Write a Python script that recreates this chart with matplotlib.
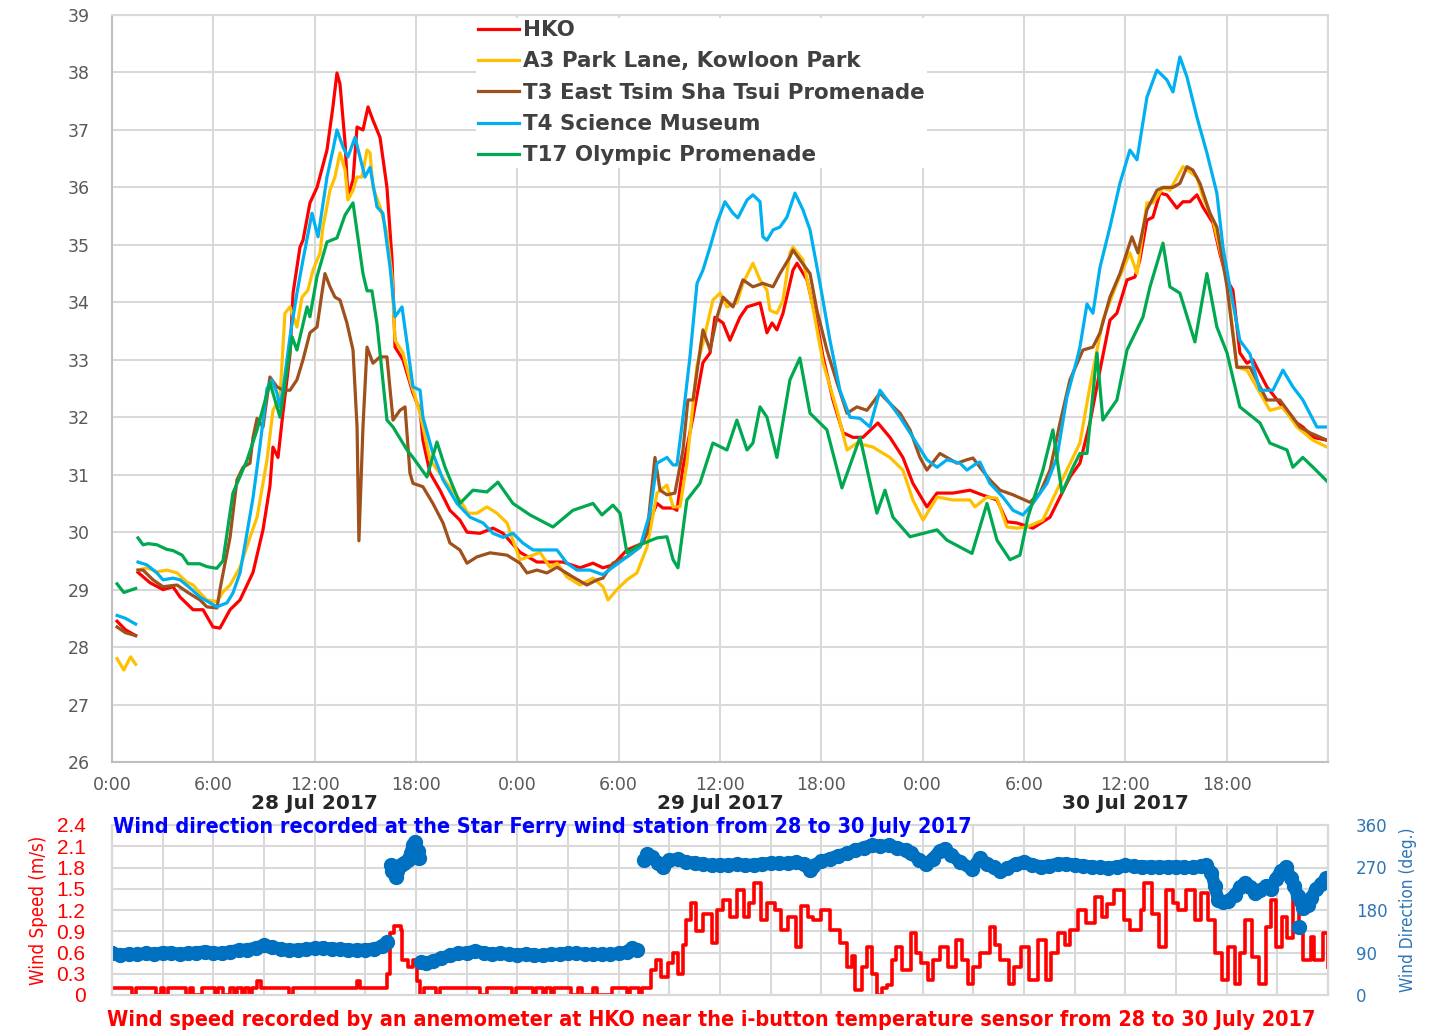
import numpy as np
import matplotlib
matplotlib.use("Agg")
import matplotlib.pyplot as plt
import matplotlib.transforms as mtransforms
from matplotlib import font_manager

# ---- temperature data (hours from 0:00 28 Jul 2017, deg C) ----
hko_early = [(0.3, 28.45), (0.8, 28.3), (1.4, 28.2)]
hko = [(1.54, 29.3), (2.25, 29.12), (3.02, 29.0), (3.61, 29.05), (4.03, 28.87), (4.8, 28.65),
       (5.39, 28.65), (5.98, 28.35), (6.39, 28.33), (6.99, 28.65), (7.58, 28.82), (8.35, 29.3),
       (8.94, 30.04), (9.35, 30.8), (9.53, 31.48), (9.83, 31.3), (10.12, 32.07), (10.54, 33.1),
       (10.72, 34.16), (11.13, 34.96), (11.31, 35.08), (11.72, 35.73), (12.14, 36.0), (12.73, 36.65),
       (13.08, 37.4), (13.32, 37.99), (13.5, 37.8), (13.8, 36.77), (13.97, 35.83), (14.27, 36.13),
       (14.51, 37.05), (14.86, 37.0), (15.16, 37.4), (15.45, 37.17), (15.87, 36.87), (16.28, 36.0),
       (16.58, 34.74), (16.76, 33.22), (17.23, 33.0), (17.82, 32.42), (18.24, 32.12), (18.41, 31.6),
       (18.83, 31.03), (19.42, 30.73), (20.01, 30.38), (20.6, 30.21), (21.02, 30.0), (21.79, 29.98),
       (22.56, 30.07), (23.15, 29.98), (24.16, 29.65), (25.16, 29.48), (26.7, 29.48), (27.71, 29.38),
       (28.48, 29.46), (29.07, 29.38), (29.66, 29.43), (30.49, 29.69), (31.44, 29.81), (32.03, 30.33),
       (32.27, 30.5), (32.62, 30.42), (33.22, 30.42), (33.45, 30.38), (33.81, 31.13), (34.4, 32.0),
       (34.99, 32.95), (35.41, 33.12), (35.7, 33.74), (36.18, 33.64), (36.59, 33.34), (37.18, 33.74),
       (37.6, 33.92), (38.37, 33.99), (38.78, 33.47), (39.08, 33.64), (39.37, 33.52), (39.73, 33.81),
       (40.32, 34.56), (40.56, 34.68), (41.15, 34.39), (41.74, 33.64), (42.1, 33.05), (42.69, 32.3),
       (43.28, 31.73), (43.87, 31.65), (44.46, 31.65), (45.35, 31.9), (46.06, 31.65), (46.83, 31.3),
       (47.42, 30.85), (48.25, 30.44), (48.85, 30.68), (49.79, 30.68), (50.8, 30.73), (51.51, 30.65),
       (52.4, 30.56), (52.99, 30.18), (53.58, 30.16), (54.53, 30.07), (55.54, 30.26), (56.13, 30.61),
       (56.72, 30.96), (57.31, 31.2), (57.9, 31.9), (58.5, 32.82), (59.09, 33.69), (59.5, 33.81),
       (60.1, 34.39), (60.57, 34.44), (60.86, 34.74), (61.28, 35.43), (61.63, 35.48), (62.05, 35.9),
       (62.46, 35.87), (63.05, 35.64), (63.41, 35.75), (63.82, 35.75), (64.24, 35.87), (64.59, 35.66),
       (65.19, 35.38), (65.6, 34.85), (66.02, 34.39), (66.37, 34.21), (66.78, 33.12), (67.2, 32.94),
       (67.55, 33.0), (68.38, 32.53), (69.15, 32.24), (69.92, 31.95), (70.51, 31.83), (71.11, 31.65),
       (71.94, 31.6)]

a3_early = [(0.3, 27.8), (0.7, 27.6), (1.1, 27.83), (1.4, 27.7)]
a3 = [(1.54, 29.34), (2.07, 29.38), (2.66, 29.31), (3.26, 29.34), (3.85, 29.29), (4.44, 29.13),
      (4.8, 29.08), (5.21, 28.94), (5.62, 28.82), (6.22, 28.79), (6.57, 28.96), (6.99, 29.08),
      (7.58, 29.39), (8.17, 29.91), (8.59, 30.26), (9.18, 31.26), (9.53, 32.12), (9.95, 32.35),
      (10.24, 33.81), (10.54, 33.92), (10.95, 33.57), (11.25, 34.09), (11.6, 34.21), (11.9, 34.56),
      (12.32, 34.86), (12.49, 35.31), (12.91, 35.95), (13.2, 36.18), (13.5, 36.6), (13.8, 36.3),
      (13.97, 35.78), (14.27, 35.95), (14.51, 36.18), (14.8, 36.18), (15.1, 36.65), (15.28, 36.6),
      (15.45, 36.0), (15.87, 35.66), (16.28, 35.2), (16.58, 34.44), (16.76, 33.34), (17.23, 33.12),
      (17.64, 32.65), (18.24, 32.07), (18.83, 31.26), (19.83, 30.85), (20.6, 30.56), (21.08, 30.33),
      (21.61, 30.33), (22.2, 30.44), (22.79, 30.33), (23.39, 30.16), (23.74, 29.86), (24.16, 29.52),
      (24.93, 29.6), (25.34, 29.65), (25.93, 29.39), (26.35, 29.46), (26.94, 29.22), (27.71, 29.08),
      (28.48, 29.2), (29.07, 29.05), (29.37, 28.82), (29.9, 29.0), (30.49, 29.17), (31.08, 29.29),
      (31.68, 29.74), (32.27, 30.68), (32.86, 30.82), (33.22, 30.44), (33.63, 30.44), (34.04, 31.2),
      (34.64, 32.9), (34.99, 33.29), (35.58, 34.04), (36.0, 34.16), (36.41, 33.92), (37.0, 33.99),
      (37.36, 34.33), (37.95, 34.68), (38.37, 34.39), (38.78, 34.21), (38.96, 33.86), (39.37, 33.81),
      (39.73, 34.04), (40.14, 34.86), (40.32, 34.96), (40.91, 34.74), (41.5, 33.92), (42.1, 32.95),
      (42.93, 32.12), (43.52, 31.43), (44.11, 31.55), (45.06, 31.48), (46.06, 31.3), (46.83, 31.08),
      (47.42, 30.56), (48.02, 30.21), (48.85, 30.61), (49.79, 30.56), (50.8, 30.56), (51.1, 30.44),
      (51.81, 30.61), (52.4, 30.59), (52.99, 30.09), (53.58, 30.07), (54.17, 30.09), (55.12, 30.21),
      (55.95, 30.73), (56.54, 31.08), (57.31, 31.55), (57.9, 32.53), (58.67, 33.69), (59.5, 34.33),
      (60.27, 34.86), (60.69, 34.5), (61.28, 35.73), (61.63, 35.73), (62.23, 35.99), (62.64, 35.95),
      (63.41, 36.36), (64.24, 36.18), (64.59, 35.83), (65.19, 35.43), (66.02, 34.39), (66.61, 32.87),
      (67.2, 32.82), (68.56, 32.12), (69.33, 32.18), (70.16, 31.83), (71.11, 31.6), (71.94, 31.48)]

t3_early = [(0.3, 28.35), (0.8, 28.25), (1.4, 28.2)]
t3 = [(1.54, 29.34), (1.84, 29.34), (2.43, 29.17), (3.02, 29.05), (3.85, 29.08), (4.44, 28.96),
      (5.21, 28.82), (5.62, 28.7), (6.22, 28.68), (6.39, 29.0), (6.99, 29.91), (7.4, 30.91),
      (7.76, 31.13), (8.17, 31.2), (8.35, 31.65), (8.59, 31.98), (8.94, 31.83), (9.35, 32.7),
      (9.77, 32.53), (10.12, 32.47), (10.54, 32.47), (10.95, 32.65), (11.31, 33.0), (11.72, 33.47),
      (12.14, 33.57), (12.43, 34.16), (12.61, 34.5), (12.91, 34.27), (13.2, 34.09), (13.5, 34.04),
      (13.91, 33.64), (14.27, 33.17), (14.51, 31.83), (14.62, 29.85), (14.86, 31.83), (15.1, 33.22),
      (15.45, 32.94), (15.87, 33.05), (16.28, 33.05), (16.64, 31.95), (17.05, 32.12), (17.35, 32.18),
      (17.64, 31.03), (17.82, 30.85), (18.41, 30.79), (19.0, 30.5), (19.6, 30.16), (20.01, 29.81),
      (20.6, 29.69), (21.02, 29.46), (21.61, 29.57), (22.38, 29.64), (23.39, 29.6), (24.16, 29.46),
      (24.57, 29.29), (25.16, 29.34), (25.75, 29.29), (26.35, 29.39), (27.29, 29.22), (28.12, 29.08),
      (28.72, 29.17), (29.07, 29.2), (29.66, 29.46), (30.49, 29.57), (31.26, 29.74), (31.68, 29.98),
      (32.15, 31.3), (32.45, 30.73), (32.86, 30.65), (33.33, 30.68), (33.81, 31.43), (34.1, 32.3),
      (34.4, 32.3), (34.99, 33.52), (35.41, 33.17), (35.82, 33.74), (36.18, 34.09), (36.77, 33.92),
      (37.36, 34.39), (37.95, 34.27), (38.54, 34.33), (39.14, 34.27), (39.55, 34.5), (40.14, 34.79),
      (40.32, 34.91), (40.73, 34.74), (41.33, 34.5), (41.74, 33.86), (42.33, 33.17), (42.93, 32.6),
      (43.52, 32.07), (44.11, 32.18), (44.7, 32.12), (45.47, 32.42), (46.06, 32.24), (46.66, 32.07),
      (47.25, 31.78), (47.84, 31.3), (48.25, 31.08), (49.02, 31.37), (50.03, 31.2), (50.62, 31.26),
      (50.98, 31.29), (51.39, 31.13), (51.98, 30.91), (52.58, 30.73), (53.35, 30.65), (54.35, 30.52),
      (54.94, 30.68), (55.54, 31.08), (56.13, 31.9), (56.72, 32.65), (57.49, 33.17), (58.08, 33.22),
      (58.5, 33.47), (59.09, 34.09), (59.68, 34.5), (60.39, 35.14), (60.75, 34.86), (61.28, 35.61),
      (61.87, 35.95), (62.23, 36.0), (62.82, 36.0), (63.23, 36.07), (63.65, 36.36), (64.0, 36.3),
      (64.42, 36.07), (65.01, 35.55), (65.42, 35.31), (66.02, 34.27), (66.61, 32.87), (67.38, 32.87),
      (68.38, 32.3), (69.15, 32.3), (70.34, 31.83), (70.93, 31.73), (71.94, 31.6)]

t4_early = [(0.3, 28.55), (0.8, 28.5), (1.4, 28.4)]
t4 = [(1.54, 29.48), (2.07, 29.43), (2.66, 29.29), (3.02, 29.17), (3.61, 29.2), (4.03, 29.17),
      (4.62, 29.03), (5.21, 28.87), (5.8, 28.77), (6.22, 28.7), (6.81, 28.77), (7.16, 28.94),
      (7.58, 29.29), (7.99, 29.98), (8.35, 30.6), (8.76, 31.5), (9.18, 32.5), (9.47, 32.65),
      (9.77, 32.42), (9.95, 32.18), (10.12, 32.47), (10.54, 33.4), (10.95, 34.16), (11.31, 34.74),
      (11.84, 35.55), (12.2, 35.14), (12.73, 36.18), (13.08, 36.65), (13.32, 37.0), (13.68, 36.7),
      (13.97, 36.53), (14.39, 36.87), (14.68, 36.53), (14.98, 36.18), (15.28, 36.35), (15.69, 35.66),
      (16.04, 35.55), (16.46, 34.62), (16.76, 33.75), (17.17, 33.92), (17.47, 33.29), (17.82, 32.53),
      (18.24, 32.47), (18.41, 32.0), (19.0, 31.37), (19.6, 30.91), (20.43, 30.5), (21.2, 30.26),
      (21.97, 30.16), (22.56, 29.98), (23.15, 29.91), (23.74, 29.98), (24.33, 29.81), (24.93, 29.69),
      (26.35, 29.69), (26.94, 29.46), (27.53, 29.34), (28.3, 29.34), (29.07, 29.26), (29.66, 29.39),
      (30.49, 29.57), (31.26, 29.74), (31.85, 30.33), (32.27, 31.2), (32.86, 31.3), (33.22, 31.17),
      (33.45, 31.17), (33.81, 32.0), (34.22, 33.05), (34.64, 34.33), (34.99, 34.56), (35.41, 34.96),
      (35.82, 35.38), (36.29, 35.75), (36.77, 35.55), (37.06, 35.47), (37.6, 35.78), (37.95, 35.87),
      (38.37, 35.75), (38.54, 35.14), (38.78, 35.08), (39.14, 35.26), (39.55, 35.31), (39.96, 35.48),
      (40.44, 35.9), (40.91, 35.61), (41.33, 35.26), (41.92, 34.33), (42.51, 33.34), (43.1, 32.47),
      (43.7, 32.0), (44.29, 31.98), (44.88, 31.83), (45.47, 32.47), (46.06, 32.24), (46.66, 32.0),
      (47.42, 31.65), (48.25, 31.26), (48.85, 31.13), (49.44, 31.26), (50.21, 31.2), (50.62, 31.08),
      (51.21, 31.2), (51.39, 31.22), (51.98, 30.85), (52.75, 30.61), (53.35, 30.38), (53.94, 30.3),
      (54.53, 30.5), (55.36, 30.85), (55.95, 31.3), (56.54, 32.35), (57.13, 33.0), (57.31, 33.22),
      (57.73, 33.97), (58.08, 33.81), (58.5, 34.61), (59.09, 35.31), (59.68, 36.07), (60.27, 36.65),
      (60.69, 36.48), (61.28, 37.57), (61.87, 38.04), (62.46, 37.87), (62.82, 37.66), (63.23, 38.27),
      (63.65, 37.92), (64.24, 37.22), (64.83, 36.6), (65.42, 35.9), (65.78, 34.96), (66.19, 34.27),
      (66.78, 33.34), (67.38, 33.1), (67.97, 32.47), (68.74, 32.47), (69.33, 32.82), (69.92, 32.53),
      (70.51, 32.3), (71.34, 31.83), (71.94, 31.83)]

t17_early = [(0.3, 29.1), (0.7, 28.95), (1.4, 29.02)]
t17 = [(1.54, 29.9), (1.84, 29.78), (2.15, 29.8), (2.66, 29.78), (3.25, 29.7), (3.61, 29.68),
       (4.15, 29.6), (4.5, 29.45), (5.2, 29.45), (5.62, 29.4), (6.2, 29.37), (6.57, 29.5),
       (7.16, 30.68), (7.99, 31.25), (8.59, 31.78), (9.35, 32.6), (9.95, 32.0), (10.66, 33.4),
       (10.95, 33.17), (11.55, 33.92), (11.72, 33.75), (12.14, 34.45), (12.73, 35.05), (13.32, 35.12),
       (13.8, 35.52), (14.27, 35.73), (14.86, 34.5), (15.1, 34.2), (15.39, 34.2), (15.69, 33.63),
       (16.28, 31.95), (16.64, 31.83), (17.47, 31.43), (17.82, 31.3), (18.65, 30.96), (19.24, 31.57),
       (19.72, 31.13), (20.6, 30.5), (21.37, 30.73), (22.2, 30.7), (22.85, 30.87), (23.74, 30.5),
       (24.75, 30.3), (26.11, 30.09), (27.29, 30.38), (28.48, 30.5), (29.01, 30.3), (29.66, 30.47),
       (30.08, 30.33), (30.49, 29.64), (31.26, 29.78), (32.27, 29.9), (32.86, 29.92), (33.22, 29.52),
       (33.51, 29.38), (34.04, 30.56), (34.81, 30.85), (35.58, 31.55), (36.41, 31.43), (37.0, 31.95),
       (37.6, 31.43), (37.95, 31.55), (38.37, 32.18), (38.78, 32.0), (39.37, 31.3), (40.14, 32.65),
       (40.73, 33.03), (41.33, 32.07), (42.33, 31.78), (43.22, 30.77), (44.29, 31.65), (45.29, 30.33),
       (45.77, 30.73), (46.24, 30.26), (47.25, 29.92), (48.85, 30.04), (49.44, 29.86), (50.92, 29.63),
       (51.81, 30.5), (52.4, 29.86), (53.17, 29.52), (53.76, 29.6), (54.23, 30.26), (55.12, 31.08),
       (55.71, 31.78), (56.25, 30.68), (56.9, 31.13), (57.31, 31.37), (57.73, 31.37), (58.32, 33.12),
       (58.67, 31.95), (59.5, 32.3), (60.1, 33.17), (61.04, 33.74), (61.46, 34.27), (62.23, 35.03),
       (62.64, 34.27), (63.23, 34.16), (64.12, 33.31), (64.83, 34.5), (65.42, 33.57), (66.02, 33.12),
       (66.78, 32.18), (67.97, 31.9), (68.56, 31.55), (69.57, 31.43), (69.92, 31.13), (70.51, 31.3),
       (71.11, 31.13), (72.0, 30.87)]

series_names = ["HKO", "A3 Park Lane, Kowloon Park", "T3 East Tsim Sha Tsui Promenade",
                "T4 Science Museum", "T17 Olympic Promenade"]

# ---- wind speed at HKO (m/s), step series ----
speed = [(0.0, 0.1), (1.2, 0.0), (1.4, 0.1), (2.6, 0.0), (2.9, 0.1), (3.1, 0.0), (3.3, 0.1),
         (4.4, 0.0), (4.6, 0.1), (4.8, 0.0), (5.3, 0.1), (6.1, 0.0), (6.3, 0.1), (6.6, 0.0),
         (7.0, 0.1), (7.2, 0.0), (7.4, 0.1), (7.7, 0.0), (7.9, 0.1), (8.1, 0.0), (8.3, 0.1),
         (8.6, 0.2), (8.8, 0.1), (10.5, 0.0), (10.7, 0.1), (14.5, 0.2), (14.7, 0.1), (16.3, 0.3),
         (16.45, 0.87), (16.7, 0.97), (17.1, 0.92), (17.2, 0.5), (17.5, 0.4), (17.8, 0.5),
         (18.05, 0.2), (18.25, 0.0), (18.5, 0.1), (19.2, 0.0), (19.4, 0.1), (21.8, 0.0), (22.2, 0.1),
         (23.7, 0.0), (23.9, 0.1), (24.9, 0.0), (25.1, 0.1), (25.5, 0.0), (25.7, 0.1), (26.0, 0.0),
         (26.2, 0.1), (27.2, 0.0), (27.6, 0.1), (27.8, 0.0), (28.5, 0.1), (28.7, 0.0), (29.6, 0.1),
         (30.5, 0.0), (30.7, 0.1), (31.2, 0.0), (31.4, 0.1), (31.9, 0.35), (32.2, 0.5), (32.5, 0.26),
         (32.9, 0.45), (33.2, 0.6), (33.5, 0.3), (33.8, 0.7), (34.0, 1.06), (34.3, 1.3), (34.6, 0.9),
         (35.0, 1.15), (35.5, 0.73), (35.8, 1.2), (36.2, 1.34), (36.6, 1.1), (37.0, 1.48), (37.4, 1.1),
         (37.7, 1.3), (38.0, 1.58), (38.4, 1.06), (38.8, 1.3), (39.25, 1.2), (39.6, 0.92), (40.0, 1.1),
         (40.5, 0.68), (40.8, 1.25), (41.2, 1.1), (41.5, 1.06), (42.0, 1.2), (42.5, 0.92),
         (43.1, 0.73), (43.5, 0.4), (43.8, 0.55), (44.0, 0.07), (44.4, 0.4), (44.7, 0.68), (45.0, 0.3),
         (45.3, 0.0), (45.6, 0.1), (45.9, 0.14), (46.2, 0.5), (46.4, 0.68), (46.8, 0.35),
         (47.3, 0.87), (47.6, 0.6), (47.9, 0.45), (48.3, 0.21), (48.6, 0.5), (49.0, 0.68),
         (49.5, 0.4), (50.0, 0.78), (50.3, 0.5), (50.7, 0.16), (51.0, 0.4), (51.4, 0.59), (52.0, 0.96),
         (52.3, 0.7), (52.6, 0.49), (53.1, 0.16), (53.4, 0.4), (53.8, 0.68), (54.3, 0.21),
         (54.8, 0.78), (55.3, 0.21), (55.6, 0.6), (56.0, 0.87), (56.4, 0.7), (56.7, 0.92),
         (57.2, 1.2), (57.7, 1.01), (58.2, 1.39), (58.6, 1.1), (58.9, 1.29), (59.3, 1.48), (59.9, 1.06),
         (60.3, 0.92), (60.9, 1.2), (61.1, 1.58), (61.6, 1.15), (62.0, 0.68), (62.4, 1.48),
         (62.8, 1.3), (63.1, 1.2), (63.6, 1.48), (64.1, 1.06), (64.5, 1.44), (64.9, 1.06),
         (65.3, 0.59), (65.7, 0.21), (66.1, 0.68), (66.5, 0.16), (66.8, 0.6), (67.1, 1.06),
         (67.5, 0.54), (67.9, 0.16), (68.3, 0.96), (68.6, 1.34), (68.9, 0.68), (69.3, 1.1),
         (69.6, 0.8), (69.9, 1.39), (70.3, 0.96), (70.5, 0.49), (71.0, 0.82), (71.2, 0.49),
         (71.7, 0.87), (72.0, 0.4)]

# ---- wind direction at Star Ferry (deg), None = gap in record ----
direction = [(0.0, 88), (0.5, 85), (1.0, 87), (1.5, 86), (2.0, 88), (2.5, 87), (3.0, 90), (3.5, 89),
             (4.0, 87), (4.5, 88), (5.0, 90), (5.5, 92), (6.0, 90), (6.5, 88), (7.0, 92), (7.5, 95),
             (8.0, 96), (8.5, 100), (9.0, 105), (9.5, 102), (10.0, 97), (10.5, 95), (11.0, 96),
             (11.5, 97), (12.0, 99), (12.5, 100), (13.0, 98), (13.5, 97), (14.0, 96), (14.5, 95),
             (15.0, 96), (15.5, 98), (16.0, 103), (16.3, 112), (16.4, None),
             (16.5, 275), (16.6, 262), (16.8, 250), (16.9, 262), (17.1, 275), (17.3, 280),
             (17.5, 285), (17.7, 300), (17.8, 318), (17.95, 325), (18.1, 305), (18.2, 290),
             (18.25, None),
             (18.3, 70), (18.6, 68), (19.0, 72), (19.5, 78), (20.0, 84), (20.5, 88), (21.0, 90),
             (21.5, 93), (22.0, 90), (22.5, 87), (23.0, 88), (23.5, 86), (24.0, 85), (24.5, 87),
             (25.0, 85), (25.5, 84), (26.0, 86), (26.5, 87), (27.0, 89), (27.5, 88), (28.0, 87),
             (28.5, 86), (29.0, 87), (29.5, 86), (30.0, 88), (30.5, 92), (30.8, 100), (31.1, 95),
             (31.2, None),
             (31.5, 285), (31.7, 298), (32.0, 293), (32.3, 280), (32.6, 272), (33.0, 285),
             (33.5, 288), (34.0, 282), (34.5, 280), (35.0, 277), (35.5, 275), (36.0, 276),
             (36.5, 275), (37.0, 277), (37.5, 275), (38.0, 276), (38.5, 278), (39.0, 279),
             (39.5, 280), (40.0, 279), (40.5, 281), (41.0, 278), (41.3, 265), (41.5, 274),
             (42.0, 283), (42.5, 289), (43.0, 295), (43.5, 300), (44.0, 306), (44.5, 312),
             (45.0, 318), (45.5, 315), (46.0, 317), (46.5, 312), (47.0, 306), (47.3, 300),
             (47.8, 286), (48.2, 278), (48.6, 288), (49.0, 305), (49.3, 310), (49.7, 296),
             (50.2, 282), (50.9, 267), (51.4, 290), (51.8, 278), (52.2, 270), (52.6, 262),
             (53.0, 268), (53.5, 278), (54.0, 282), (54.5, 276), (55.0, 272), (55.5, 274),
             (56.0, 278), (56.5, 278), (57.0, 276), (57.5, 274), (58.0, 272), (58.5, 270),
             (59.0, 269), (59.5, 272), (60.0, 275), (60.5, 273), (61.0, 272), (61.5, 272),
             (62.0, 271), (62.5, 272), (63.0, 272), (63.5, 271), (64.0, 270), (64.5, 273),
             (64.8, 276), (65.1, 258), (65.3, 230), (65.5, 202), (65.8, 198), (66.1, 200),
             (66.5, 212), (66.8, 228), (67.1, 238), (67.4, 228), (67.7, 215), (68.0, 222),
             (68.3, 230), (68.6, 225), (68.9, 245), (69.2, 262), (69.5, 270), (69.8, 248),
             (70.0, 230), (70.2, 210), (70.5, 185), (70.8, 190), (71.0, 205), (71.3, 225),
             (71.6, 235), (71.9, 248), (72.0, 240)]
direction_outlier = [(70.3, 145)]

day_labels = ["28 Jul 2017", "29 Jul 2017", "30 Jul 2017"]
hour_labels = ["0:00", "6:00", "12:00", "18:00"]

colors = ["#FF0000", "#FFC000", "#A0501A", "#00B0F0", "#00A850"]


def xy(pairs):
    arr = np.array([(t, np.nan if v is None else v) for t, v in pairs], dtype=float)
    return arr[:, 0], arr[:, 1]


# pick a narrow face for the Calibri-looking captions, if one is installed
installed = {f.name for f in font_manager.fontManager.ttflist}
has_dejavu_cond = any(f.name == "DejaVu Sans" and "condensed" in str(f.stretch)
                      for f in font_manager.fontManager.ttflist)
if "Liberation Sans Narrow" in installed:
    narrow, stretch = "Liberation Sans Narrow", "normal"
elif has_dejavu_cond:
    narrow, stretch = "DejaVu Sans", "condensed"
else:
    narrow, stretch = "Liberation Sans", "normal"

W, H = 1431, 1034
fig = plt.figure(figsize=(W / 100, H / 100), dpi=100)
fig.patch.set_facecolor("white")

# ---------------- temperature panel ----------------
ax = fig.add_axes([112 / W, 1 - 762 / H, 1216 / W, 747 / H])
grid_c = "#D9D9D9"
main = [hko, a3, t3, t4, t17]
early = [hko_early, a3_early, t3_early, t4_early, t17_early]
for pairs, first, name, c in zip(main, early, series_names, colors):
    t0, v0 = xy(first)
    t1, v1 = xy(pairs)
    ax.plot(t0, v0, color=c, lw=2.3)
    ax.plot(t1, v1, color=c, lw=2.3, label=name)

ax.set_xlim(0, 72)
ax.set_ylim(26, 39)
ax.set_xticks(np.arange(0, 73, 6))
ax.set_xticklabels(hour_labels * 3 + [""])
ax.set_yticks(np.arange(26, 40, 1))
ax.grid(True, color=grid_c, lw=1.5)
ax.set_axisbelow(True)
ax.tick_params(length=0, labelsize=12.5, labelcolor="#595959")
ax.tick_params(axis="y", pad=16)
ax.tick_params(axis="x", pad=10)
for s in ax.spines.values():
    s.set_color(grid_c)
    s.set_linewidth(1.5)
ax.spines["left"].set_color("#BFBFBF")
ax.spines["bottom"].set_color("#BFBFBF")

trans = mtransforms.blended_transform_factory(ax.transData, ax.transAxes)
for i, lab in enumerate(day_labels):
    ax.text(12 + 24 * i, -0.056, lab, transform=trans, ha="center", va="center",
            fontsize=14.5, fontweight="bold", color="#262626")

leg = ax.legend(loc="upper left", bbox_to_anchor=(0.299, 0.996), frameon=True, fancybox=False,
                borderpad=0.1, borderaxespad=0, handlelength=1.95, handletextpad=0.18,
                labelspacing=0.53, prop={"size": 15.4, "weight": "bold"})
leg.get_frame().set_edgecolor("none")
leg.get_frame().set_facecolor("white")
leg.get_frame().set_alpha(1)
for txt in leg.get_texts():
    txt.set_color("#404040")

# ---------------- wind panel ----------------
axb = fig.add_axes([112 / W, 1 - 995 / H, 1216 / W, 170 / H])
axr = axb.twinx()

st, sv = xy(speed)
axb.plot(st, sv, color="#FF0000", lw=2.6, drawstyle="steps-post")
axb.set_xlim(0, 72)
axb.set_ylim(0, 2.4)
axb.set_xticks(np.arange(0, 73, 3))
axb.set_xticklabels([])
axb.set_yticks(np.round(np.arange(0, 2.41, 0.3), 1))
axb.set_yticklabels(["0"] + [f"{v:.1f}" for v in np.arange(0.3, 2.41, 0.3)])
axb.grid(True, color=grid_c, lw=1.5)
axb.set_axisbelow(True)
axb.tick_params(length=0, labelsize=15, labelcolor="#FF0000", pad=19)
for lab in axb.get_yticklabels():
    lab.set_family("Liberation Sans")
axb.set_ylabel("Wind Speed (m/s)", color="#FF0000", fontsize=16, family=narrow,
               fontstretch=stretch, labelpad=6)

dt, dv = xy(direction)
axr.plot(dt, dv, "-o", color="#0070C0", lw=9, ms=10, solid_capstyle="round",
         solid_joinstyle="round")
ot, ov = xy(direction_outlier)
axr.plot(ot, ov, "o", color="#0070C0", ms=10)
axr.set_ylim(0, 360)
axr.set_yticks([0, 90, 180, 270, 360])
axr.tick_params(length=0, labelsize=12, labelcolor="#2E75B6", pad=20)
axr.set_ylabel("Wind Direction (deg.)", color="#2E75B6", fontsize=16, family=narrow,
               fontstretch=stretch, labelpad=8)
for a in (axb, axr):
    for s in a.spines.values():
        s.set_color(grid_c)
        s.set_linewidth(1.5)

blue_title = fig.text(113 / W, 1 - 827 / H,
                      "Wind direction recorded at the Star Ferry wind station from 28 to 30 July 2017",
                      ha="left", va="center", fontsize=17, fontweight="bold", color="#0000FF",
                      family=narrow, fontstretch=stretch)
red_title = fig.text(107 / W, 1 - 1020 / H,
                     "Wind speed recorded by an anemometer at HKO near the i-button temperature "
                     "sensor from 28 to 30 July 2017",
                     ha="left", va="center", fontsize=17, fontweight="bold", color="#FF0000",
                     family=narrow, fontstretch=stretch)

# scale caption sizes so they span the same width as in the source figure
fig.canvas.draw()
for txt, target, use_h in [(blue_title, 854, False), (red_title, 1206, False),
                           (axb.yaxis.label, 150, True), (axr.yaxis.label, 165, True)]:
    ext = txt.get_window_extent()
    size = ext.height if use_h else ext.width
    txt.set_fontsize(txt.get_fontsize() * target / size)

fig.savefig("out.png", dpi=100)
